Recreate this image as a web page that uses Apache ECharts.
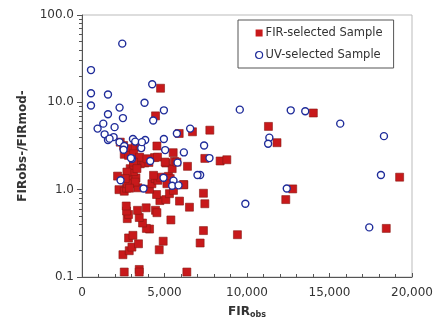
<!DOCTYPE html>
<html>
<head>
<meta charset="utf-8">
<script src="https://cdn.jsdelivr.net/npm/echarts@6/dist/echarts.min.js"></script>
<style>
html,body{margin:0;padding:0;background:#fff;}
#main{width:436px;height:327px;}
</style>
</head>
<body>
<div id="main"></div>
<script>
/* FIR-selected sample: [FIRobs, ratio] */
var firSample = [
    [4760,14.5],[4457,7.0],[5890,4.4],[6695,4.6],[7748,4.8],[2318,3.5],[4540,3.16],[5526,2.65],
    [7445,2.28],[8371,2.13],[8777,2.2],[14020,7.55],[11300,5.3],[11820,3.45],[19250,1.39],
    [12770,1.02],[12350,0.77],[18440,0.36],[9420,0.305],[7360,0.91],[7445,0.69],[7360,0.34],
    [7160,0.245],[2560,0.114],[3468,0.122],[3468,0.114],[6355,0.114],[2480,0.18],[2863,0.20],
    [2823,0.28],[3026,0.22],[3087,0.30],[3425,0.24],[4680,0.205],[4920,0.257],[4094,0.354],
    [3900,0.36],[3670,0.415],[3468,0.48],[3365,0.58],[2742,0.466],[2823,0.52],[2700,0.57],
    [2680,0.65],[3890,0.62],[4455,0.58],[4540,0.545],[5387,0.45],[6513,0.63],[5910,0.74],
    [4720,0.75],[5085,0.77],[5300,0.90],[5545,0.98],[6175,1.14],[4520,0.88],[2240,1.0],
    [2560,0.96],[2700,1.04],[3026,1.17],[3390,1.05],[4094,1.01],[4237,1.17],[4437,1.34],
    [4600,1.28],[5240,1.42],[2155,1.43],[2784,1.39],[3270,1.36],[2760,1.17],[2920,1.74],
    [3120,1.61],[3530,1.98],[3810,2.02],[4055,2.05],[4395,2.33],[5085,2.02],[5465,1.74],
    [5605,2.11],[6393,1.85],[2560,2.54],[3120,1.90],[3226,2.16],[2520,3.2],[2924,2.95],
    [3226,3.08],[3530,3.08],[2823,2.47],[3124,2.58],[3490,2.36],[3124,2.07],[3330,1.74],
    [2722,1.59],[2620,1.34],[3226,1.22],[2880,1.04],[3935,2.26],[4576,2.36],[5040,2.07],
    [5750,2.07],[5345,1.34],[6150,1.14],[5145,1.17],[4740,1.39],[4335,1.46]
];
/* UV-selected sample */
var uvSample = [
    [2440,47],[545,23.4],[545,12.7],[545,9.2],[1574,12.3],[4255,16.1],[3790,9.9],[4963,8.1],
    [2277,8.7],[1574,7.3],[2480,6.6],[4316,6.2],[1290,5.7],[945,5.0],[1975,5.2],[1370,4.3],
    [1574,3.7],[1915,4.0],[2277,3.5],[3087,3.8],[3226,3.55],[3831,3.7],[4963,3.8],[2560,3.16],
    [2520,2.87],[3590,2.99],[5040,2.84],[5750,4.4],[6555,5.0],[6174,2.67],[7400,3.2],[7725,2.3],
    [3026,2.26],[4134,2.13],[5790,2.04],[9563,8.25],[12650,8.1],[13530,7.9],[15650,5.7],
    [18300,4.1],[11355,3.94],[11280,3.36],[18117,1.47],[12410,1.03],[9900,0.69],[17410,0.37],
    [7160,1.47],[2337,1.28],[3730,1.03],[4940,1.37],[5545,1.27],[5465,1.11],[5850,1.12],
    [7000,1.47],[1670,3.84],[3630,3.5],[2965,2.3]
];
var seriesNames = ['FIR-selected Sample', 'UV-selected Sample'];
var xTitle = 'FIR';
var xTitleSub = 'obs';
var yTitle = 'FIRobs-/FIRmod-';

var font = 'DejaVu Sans';
var chart = echarts.init(document.getElementById('main'));
chart.setOption({
    animation: false,
    textStyle: {fontFamily: font},
    grid: {
        left: 82, right: 24, top: 15, bottom: 50,
        show: true, borderColor: '#bbbbbb', borderWidth: 1
    },
    legend: {
        orient: 'vertical',
        left: 238, top: 20,
        padding: [7, 11, 7, 17],
        borderColor: '#555', borderWidth: 1,
        backgroundColor: '#fff',
        itemWidth: 7, itemHeight: 7, itemGap: 10,
        textStyle: {fontSize: 11.5, color: '#333', fontFamily: font, padding: [0, 0, 0, -2]},
        data: [
            {name: seriesNames[0], icon: 'rect',
             itemStyle: {color: '#c8191b', borderWidth: 0, opacity: 1}},
            {name: seriesNames[1], icon: 'circle',
             itemStyle: {color: '#fff', borderColor: '#1f2c9a', borderWidth: 1.2, opacity: 1}}
        ]
    },
    xAxis: {
        type: 'value',
        min: 0, max: 20000, interval: 5000,
        name: '{a|' + xTitle + '}{b|' + xTitleSub + '}',
        nameLocation: 'middle', nameGap: 28,
        nameTextStyle: {
            rich: {
                a: {fontSize: 12, fontWeight: 'bold', color: '#333', fontFamily: font},
                b: {fontSize: 8, fontWeight: 'bold', color: '#333', fontFamily: font, verticalAlign: 'bottom', padding: [6, 0, 0, 0]}
            }
        },
        axisLine: {lineStyle: {color: '#555', width: 1}},
        axisTick: {inside: true, length: 4, lineStyle: {color: '#555'}},
        minorTick: {show: true, splitNumber: 5, length: 3, lineStyle: {color: '#555'}},
        axisLabel: {color: '#333', fontSize: 12, margin: 10},
        splitLine: {show: false}
    },
    yAxis: {
        type: 'log',
        min: 0.1, max: 100, logBase: 10,
        name: yTitle,
        nameLocation: 'middle', nameGap: 44,
        nameTextStyle: {fontSize: 12, fontWeight: 'bold', color: '#333', fontFamily: font},
        axisLine: {show: true, lineStyle: {color: '#555', width: 1}},
        axisTick: {show: true, length: 5, lineStyle: {color: '#555'}},
        minorTick: {show: true, splitNumber: 9, length: 3, lineStyle: {color: '#555'}},
        axisLabel: {
            color: '#333', fontSize: 12, margin: 8,
            formatter: function (v) { return v.toFixed(1); }
        },
        splitLine: {show: false}
    },
    series: [
        {
            name: seriesNames[0],
            type: 'scatter',
            symbol: 'rect',
            symbolSize: 8,
            itemStyle: {color: '#c8191b', borderColor: '#8a1a14', borderWidth: 0.6, opacity: 1},
            data: firSample,
            z: 2
        },
        {
            name: seriesNames[1],
            type: 'scatter',
            symbol: 'circle',
            symbolSize: 7,
            itemStyle: {color: '#ffffff', borderColor: '#1f2c9a', borderWidth: 1.4, opacity: 1},
            data: uvSample,
            z: 3
        }
    ]
});
</script>
</body>
</html>
